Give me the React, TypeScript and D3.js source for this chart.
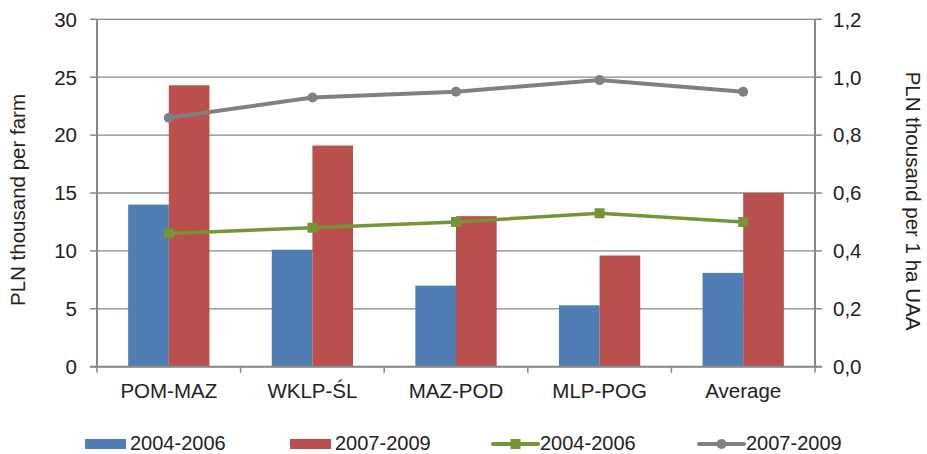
import React from "react";
import * as d3 from "d3";

const categories = ["POM-MAZ", "WKLP-ŚL", "MAZ-POD", "MLP-POG", "Average"];
const barSeriesNames = ["2004-2006", "2007-2009"];
const bars2004 = [14.0, 10.1, 7.0, 5.3, 8.1];
const bars2007 = [24.3, 19.1, 13.0, 9.6, 15.0];
const line2004 = [0.46, 0.48, 0.5, 0.53, 0.5];
const line2007 = [0.86, 0.93, 0.95, 0.99, 0.95];
const leftTicks = [0, 5, 10, 15, 20, 25, 30];
const rightTicks = [0, 0.2, 0.4, 0.6, 0.8, 1.0, 1.2];

const W = 927;
const H = 454;
const M = { left: 97, right: 815, top: 19.3, bottom: 366.7 };
const FONT = "'Liberation Sans', Arial, sans-serif";
const TXT = "#222";
const AX = "#878787";
const BLUE = "#4F7DB4";
const RED = "#B9504D";
const GREEN = "#779337";
const GRAY = "#808080";

export default function App() {
  const x0 = d3.scaleBand<string>().domain(categories).range([M.left, M.right]).padding(0);
  const bw = x0.bandwidth();
  const barW = bw * 0.283;
  const x1 = d3.scaleBand<string>().domain(barSeriesNames).range([-barW, barW]).padding(0);
  const yL = d3.scaleLinear().domain([0, 30]).range([M.bottom, M.top]);
  const yR = d3.scaleLinear().domain([0, 1.2]).range([M.bottom, M.top]);
  const cx = (c: string) => (x0(c) as number) + bw / 2;

  const lineGen = d3
    .line<number>()
    .x((_, i) => cx(categories[i]))
    .y((d) => yR(d));

  const fmtR = (v: number) => d3.format(".1f")(v).replace(".", ",");
  const boundaries = [...categories.map((c) => x0(c) as number), M.right];

  const legendY = 444;
  const legendItems = [
    { kind: "bar", color: BLUE, label: "2004-2006", x: 85 },
    { kind: "bar", color: RED, label: "2007-2009", x: 290 },
    { kind: "sq", color: GREEN, label: "2004-2006", x: 493 },
    { kind: "dot", color: GRAY, label: "2007-2009", x: 699 },
  ];

  return (
    <svg width={W} height={H} style={{ display: "block", position: "absolute", left: 0, top: 0 }} fontFamily={FONT}>
      <rect x={0} y={0} width={W} height={H} fill="#fff" />
      {leftTicks.map((t) => (
        <line key={"g" + t} x1={M.left} x2={M.right} y1={yL(t)} y2={yL(t)} stroke={AX} strokeWidth={1.3} />
      ))}
      {categories.map((c, i) => (
        <g key={c}>
          <rect x={cx(c) + (x1("2004-2006") as number)} y={yL(bars2004[i])} width={x1.bandwidth()} height={yL(0) - yL(bars2004[i])} fill={BLUE} />
          <rect x={cx(c) + (x1("2007-2009") as number)} y={yL(bars2007[i])} width={x1.bandwidth()} height={yL(0) - yL(bars2007[i])} fill={RED} />
        </g>
      ))}
      <line x1={M.left} x2={M.left} y1={M.top} y2={M.bottom} stroke={AX} strokeWidth={2} />
      <line x1={M.right} x2={M.right} y1={M.top} y2={M.bottom} stroke={AX} strokeWidth={2} />
      <line x1={M.left - 7} x2={M.right + 7} y1={M.bottom} y2={M.bottom} stroke={AX} strokeWidth={2} />
      {leftTicks.map((t) => (
        <g key={"l" + t}>
          <line x1={M.left - 7} x2={M.left} y1={yL(t)} y2={yL(t)} stroke={AX} strokeWidth={1.5} />
          <text x={77} y={yL(t)} dy="0.36em" textAnchor="end" fontSize={20.5} fill={TXT}>{t}</text>
        </g>
      ))}
      {rightTicks.map((t) => (
        <g key={"r" + t}>
          <line x1={M.right} x2={M.right + 7} y1={yR(t)} y2={yR(t)} stroke={AX} strokeWidth={1.5} />
          <text x={833} y={yR(t)} dy="0.36em" textAnchor="start" fontSize={20.5} fill={TXT}>{fmtR(t)}</text>
        </g>
      ))}
      {boundaries.map((b, i) => (
        <line key={"xt" + i} x1={b} x2={b} y1={M.bottom} y2={M.bottom + 6} stroke={AX} strokeWidth={1.5} />
      ))}
      {categories.map((c) => (
        <text key={"c" + c} x={cx(c)} y={398} textAnchor="middle" fontSize={20.5} fill={TXT}>{c}</text>
      ))}
      <text transform={`translate(25,200) rotate(-90)`} textAnchor="middle" fontSize={20.5} fill={TXT}>PLN thousand per farm</text>
      <text transform={`translate(906,201) rotate(90)`} textAnchor="middle" fontSize={20.5} fill={TXT}>PLN thousand per 1 ha UAA</text>
      <path d={lineGen(line2004) || ""} fill="none" stroke={GREEN} strokeWidth={3.5} />
      {line2004.map((v, i) => (
        <rect key={"gs" + i} x={cx(categories[i]) - 5} y={yR(v) - 5} width={10} height={10} fill={GREEN} />
      ))}
      <path d={lineGen(line2007) || ""} fill="none" stroke={GRAY} strokeWidth={4} />
      {line2007.map((v, i) => (
        <circle key={"gc" + i} cx={cx(categories[i])} cy={yR(v)} r={5} fill={GRAY} />
      ))}
      {legendItems.map((it, i) => (
        <g key={"lg" + i}>
          {it.kind === "bar" ? (
            <rect x={it.x} y={legendY - 5} width={41} height={10} fill={it.color} />
          ) : (
            <g>
              <line x1={it.x} x2={it.x + 45} y1={legendY} y2={legendY} stroke={it.color} strokeWidth={4} strokeLinecap="round" />
              {it.kind === "sq" ? (
                <rect x={it.x + 22.5 - 5} y={legendY - 5} width={10} height={10} fill={it.color} />
              ) : (
                <circle cx={it.x + 22.5} cy={legendY} r={5} fill={it.color} />
              )}
            </g>
          )}
          <text x={it.kind === "bar" ? it.x + 45 : it.x + 47} y={449.8} fontSize={20} fill={TXT}>{it.label}</text>
        </g>
      ))}
    </svg>
  );
}
